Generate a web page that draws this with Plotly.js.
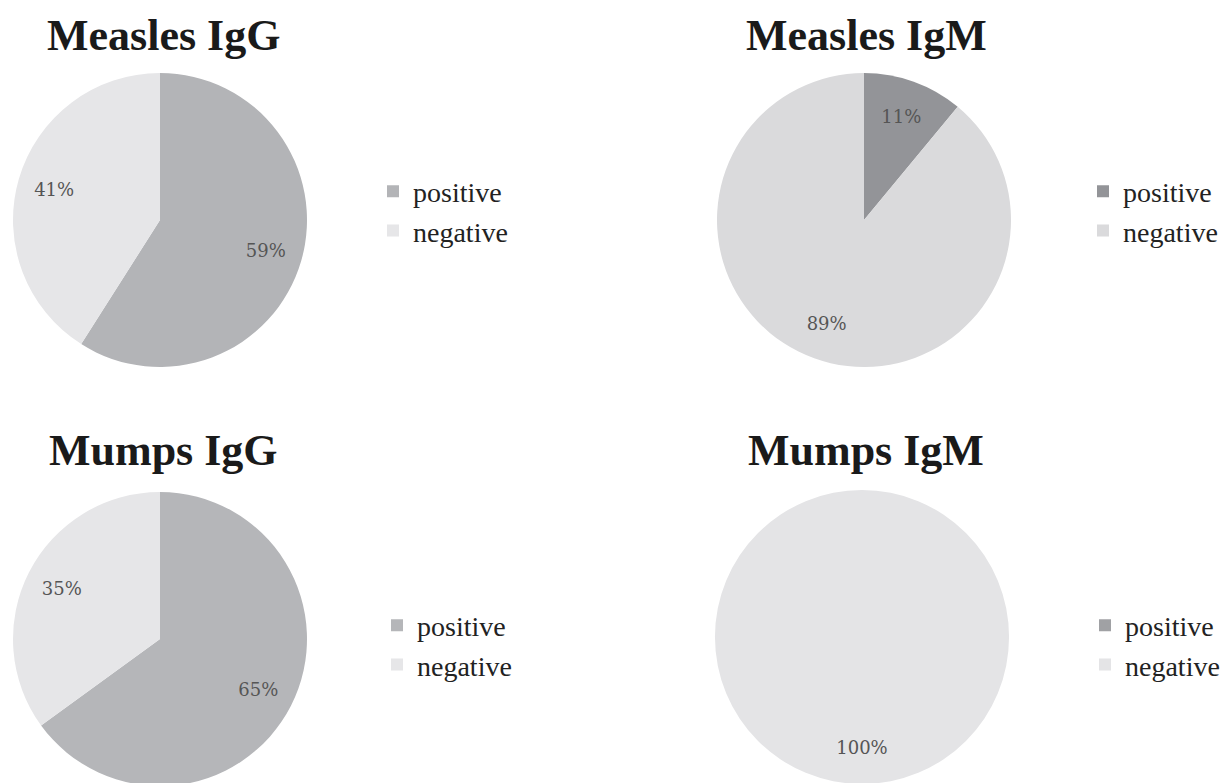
<!DOCTYPE html>
<html>
<head>
<meta charset="utf-8">
<script src="https://cdn.plot.ly/plotly-3.0.1.min.js"></script>
<style>
html,body{margin:0;padding:0;background:#fff;overflow:hidden;}
.cell{position:absolute;width:616px;height:395px;}
</style>
</head>
<body>
<div id="c0" class="cell" style="left:0;top:0"></div>
<div id="c1" class="cell" style="left:616px;top:0"></div>
<div id="c2" class="cell" style="left:0;top:395px"></div>
<div id="c3" class="cell" style="left:616px;top:395px"></div>
<script>
var labels = ["positive", "negative"];
var titles = ["Measles IgG", "Measles IgM", "Mumps IgG", "Mumps IgM"];
var measlesIgG = [59, 41];
var measlesIgM = [11, 89];
var mumpsIgG = [65, 35];
var mumpsIgM = [0, 100];

var series = [measlesIgG, measlesIgM, mumpsIgG, mumpsIgM];
var colors = [
  ["#b3b4b7", "#e6e6e8"],
  ["#939498", "#dadadc"],
  ["#b5b6b9", "#e6e6e8"],
  ["#a0a1a4", "#e4e4e6"]
];
var W = 616, H = 395;
function py(p){ return 1 - p / H; }
function px(p){ return p / W; }
// layout geometry of each panel, in pixels inside its cell
var pieBox = [
  {x: [13, 307], y: [73, 367]},
  {x: [101, 395], y: [73, 367]},
  {x: [13, 307], y: [97, 391]},
  {x: [99, 393], y: [95, 389]}
];
var titleXY = [[163, 35], [250, 35], [163, 56], [250, 56]];
var legendXY = [[373, 211], [467, 211], [377, 250], [469, 250]];

series.forEach(function(vals, i){
  var dom = {x: [px(pieBox[i].x[0]), px(pieBox[i].x[1])], y: [py(pieBox[i].y[1]), py(pieBox[i].y[0])]};
  var base = {
    type: "pie", labels: labels, values: vals, sort: false,
    direction: "clockwise", rotation: 0, domain: dom,
    marker: {colors: colors[i], line: {width: 0}},
    textinfo: "none", hoverinfo: "label+percent", showlegend: true
  };
  var textLayer = {
    type: "pie", labels: labels, values: vals, sort: false,
    direction: "clockwise", rotation: 0, domain: dom, hole: 0.5,
    marker: {colors: ["rgba(0,0,0,0)", "rgba(0,0,0,0)"], line: {width: 0}},
    textinfo: "percent", textposition: "inside", insidetextorientation: "horizontal",
    texttemplate: "%{percent:.0%}",
    textfont: {family: "DejaVu Serif", size: 18, color: "#555555"},
    hoverinfo: "skip", showlegend: false
  };
  var layout = {
    width: W, height: H,
    margin: {l: 0, r: 0, t: 0, b: 0},
    paper_bgcolor: "rgba(0,0,0,0)",
    showlegend: true,
    legend: {x: px(legendXY[i][0]), y: py(legendXY[i][1]), xanchor: "left", yanchor: "middle",
             font: {family: "Liberation Serif", size: 28, color: "#222222"},
             bgcolor: "rgba(0,0,0,0)", traceorder: "normal"},
    annotations: [{text: titles[i], showarrow: false, xref: "paper", yref: "paper",
      x: px(titleXY[i][0]), y: py(titleXY[i][1]), xanchor: "center", yanchor: "middle",
      font: {family: "Liberation Serif", size: 44, color: "#1a1a1a", weight: "bold"}}]
  };
  Plotly.newPlot("c" + i, [base, textLayer], layout, {displayModeBar: false, staticPlot: true});
});
</script>
</body>
</html>
